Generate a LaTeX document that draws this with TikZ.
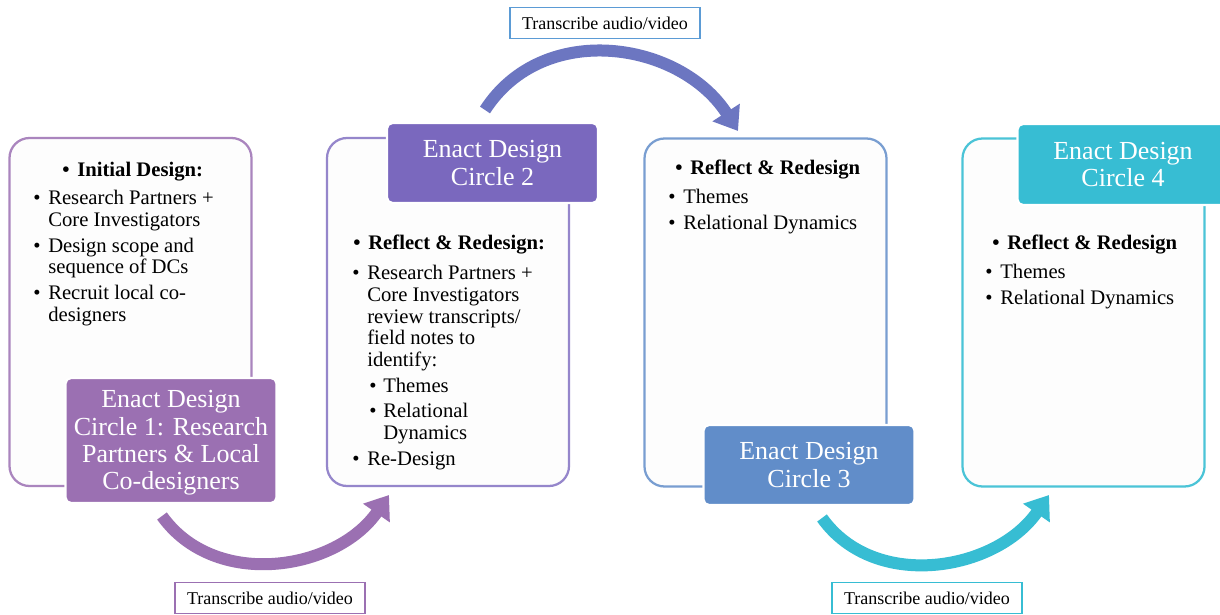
\documentclass[tikz,border=0pt]{standalone}
\usepackage{fontspec}
\setmainfont{Liberation Serif}
\usetikzlibrary{arrows.meta, positioning, calc}

\definecolor{circA}{RGB}{155,112,178}
\definecolor{circB}{RGB}{122,104,190}
\definecolor{circC}{RGB}{97,141,201}
\definecolor{circD}{RGB}{55,189,211}
\definecolor{arrowB}{RGB}{108,118,193}
\definecolor{labelB}{RGB}{91,155,213}
\definecolor{boxfill}{RGB}{253,253,253}

\newlength{\pxu}\setlength{\pxu}{0.025cm}
\newcommand{\bodysize}{\fontsize{14.7}{15.44}\selectfont}
\newcommand{\tabsize}{\fontsize{18.5}{19.4}\selectfont}
\newcommand{\labsize}{\fontsize{12.8}{14}\selectfont}
\newcommand{\bul}{\makebox[15\pxu][l]{\textbullet}}
\newcommand{\ind}{\hspace*{15\pxu}}
\newcommand{\subbul}{\hspace*{17\pxu}\makebox[14\pxu][l]{\textbullet}}
\newcommand{\subind}{\hspace*{31\pxu}}

\begin{document}
\begin{tikzpicture}[x=0.025cm, y=-0.025cm,
    cbox/.style={draw=#1, line width=1.6pt, rounded corners=0.5cm, fill=boxfill,
        minimum width=242\pxu, minimum height=348\pxu, inner sep=0},
    ctab/.style={fill=#1, draw=white, line width=1.5pt, rounded corners=4pt,
        minimum width=211\pxu, align=center, text=white, font=\tabsize, inner sep=0},
    lhead/.style={font=\bodysize\bfseries, inner sep=0, anchor=west},
    ltext/.style={font=\bodysize, align=left, inner sep=0, anchor=north west},
    trans/.style={draw=#1, line width=1.2pt, fill=white, minimum width=190\pxu,
        minimum height=31\pxu, font=\labsize, inner sep=0},
    flow/.style={draw=#1, line width=12\pxu, -{Triangle[length=0.55cm, width=0.78cm]}}]

    % Page
    \fill[white] (0,0) rectangle (1220,615);
    \useasboundingbox (0,0) rectangle (1220,615);

    % Circle boxes
    \node[cbox=circA!85!white] (box1) at (130.5,312) {};
    \node[cbox=circB!80!white] (box2) at (448,312) {};
    \node[cbox=circC!85!white] (box3) at (765.5,312.5) {};
    \node[cbox=circD!90!white] (box4) at (1083.5,312.5) {};

    % Box texts
    \node[lhead] (h1) at (62,172) {\bul Initial Design:};
    \node[ltext] (l1) at (33,190) {\bul Research Partners +\\
        \ind Core Investigators\\[4\pxu]
        \bul Design scope and\\
        \ind sequence of DCs\\[4\pxu]
        \bul Recruit local co-\\
        \ind designers};

    \node[lhead] (h2) at (353,245) {\bul Reflect \& Redesign:};
    \node[ltext] (l2) at (352,265) {\bul Research Partners +\\
        \ind Core Investigators\\
        \ind review transcripts/\\
        \ind field notes to\\
        \ind identify:\\[4\pxu]
        \subbul Themes\\[4\pxu]
        \subbul Relational\\
        \subind Dynamics\\[4\pxu]
        \bul Re-Design};

    \node[lhead] (h3) at (675,170) {\bul Reflect \& Redesign};
    \node[ltext] (l3) at (668,189) {\bul Themes\\[4\pxu]
        \bul Relational Dynamics};

    \node[lhead] (h4) at (992,245) {\bul Reflect \& Redesign};
    \node[ltext] (l4) at (985,264) {\bul Themes\\[4\pxu]
        \bul Relational Dynamics};

    % Tabs
    \node[ctab=circA, minimum height=125\pxu] (tab1) at (171,440.5)
        {\rule{0pt}{22\pxu}Enact Design\\Circle 1: Research\\Partners \& Local\\Co-designers};
    \node[ctab=circB, minimum height=80\pxu] (tab2) at (492.5,163)
        {Enact Design\\Circle 2};
    \node[ctab=circC, minimum height=80\pxu] (tab3) at (809,465)
        {Enact Design\\Circle 3};
    \node[ctab=circD, minimum height=81\pxu] (tab4) at (1123,164.5)
        {Enact Design\\Circle 4};

    % Transcribe labels
    \node[trans=circA] (tr1) at (270,598) {Transcribe audio/video};
    \node[trans=labelB] (tr2) at (605,23) {Transcribe audio/video};
    \node[trans=circD] (tr3) at (927,598) {Transcribe audio/video};

    % Arrows
    \coordinate (a1s) at (162,516);
    \coordinate (a1e) at (389,495);
    \coordinate (a2s) at (485,110);
    \coordinate (a2e) at (738,131);
    \coordinate (a3s) at (822,518);
    \coordinate (a3e) at (1049,495);
    \draw[flow=circA] (a1s) .. controls +(53,74) and +(-53,76) .. (a1e);
    \draw[flow=arrowB] (a2s) .. controls +(58,-90) and +(-58,-90) .. (a2e);
    \draw[flow=circD] (a3s) .. controls +(53,74) and +(-53,76) .. (a3e);
\end{tikzpicture}
\end{document}
